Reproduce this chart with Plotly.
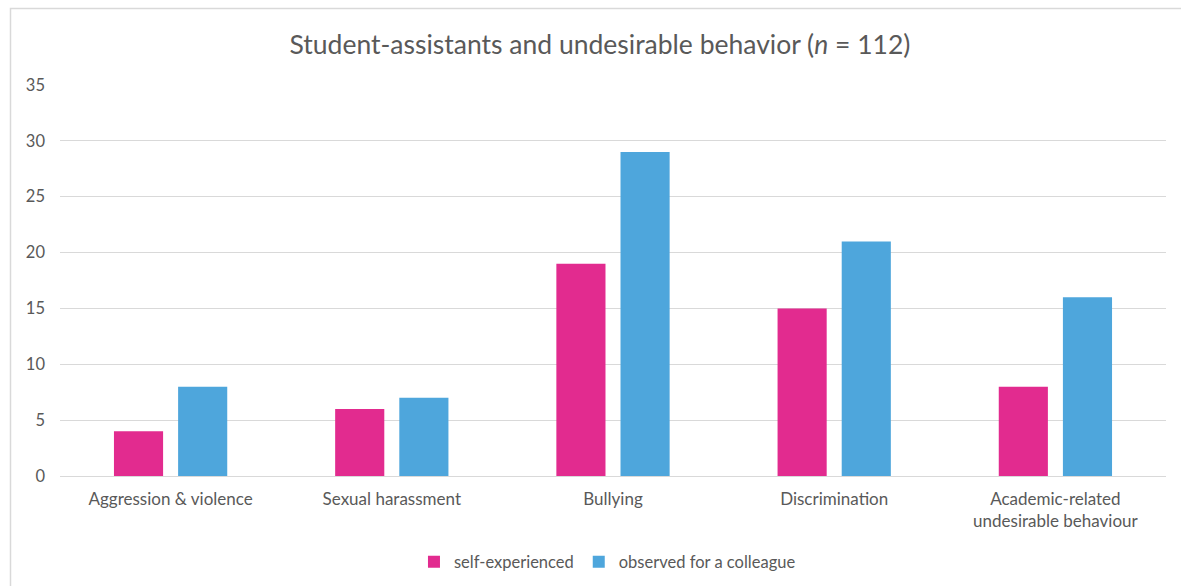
import plotly.graph_objects as go

categories = ["Aggression & violence", "Sexual harassment", "Bullying", "Discrimination",
              "Academic-related<br>undesirable behaviour"]
self_experienced = [4, 6, 19, 15, 8]
observed_colleague = [8, 7, 29, 21, 16]
series_names = ["self-experienced", "observed for a colleague"]
y_ticks = [0, 5, 10, 15, 20, 25, 30, 35]

PINK = "#E22B8F"
BLUE = "#4EA6DC"
GRAY = "#595959"
FONT = "Lato, Carlito, 'Liberation Sans', sans-serif"

fig = go.Figure()
fig.add_trace(go.Bar(x=categories, y=self_experienced, name=series_names[0],
                     marker=dict(color=PINK, line=dict(width=0))))
fig.add_trace(go.Bar(x=categories, y=observed_colleague, name=series_names[1],
                     marker=dict(color=BLUE, line=dict(width=0))))

fig.update_layout(
    width=1181, height=586,
    margin=dict(l=60, r=15, t=85, b=110, autoexpand=False),
    paper_bgcolor="white", plot_bgcolor="white",
    font=dict(family=FONT, color=GRAY, size=16),
    barmode="group", bargap=0.42, bargroupgap=0.234,
    title=dict(text="Student-assistants and undesirable behavior (<i>n</i> = 112)",
               x=0.508, xanchor="center", y=1 - 45 / 586, yanchor="middle",
               font=dict(size=26.5, color=GRAY, family=FONT)),
    showlegend=True,
    legend=dict(orientation="h", x=0.495, xanchor="center", y=-0.22, yanchor="middle",
                font=dict(size=16.5, color=GRAY), itemwidth=30, traceorder="normal"),
    xaxis=dict(showgrid=False, showline=False, ticks="", tickfont=dict(size=17, color=GRAY),
               ticklabelstandoff=11, automargin=False),
    yaxis=dict(range=[0, 35], tickvals=y_ticks, showgrid=True, gridcolor="#D9D9D9",
               gridwidth=1, zeroline=True, zerolinecolor="#D9D9D9", zerolinewidth=1,
               showline=False, ticks="", tickfont=dict(size=16.5, color=GRAY),
               ticklabelstandoff=14, automargin=False),
    shapes=[dict(type="rect", xref="paper", yref="paper",
                 x0=(10.5 - 60) / 1106, x1=(1190 - 60) / 1106,
                 y0=(476 - 600) / 391, y1=(476 - 8.5) / 391,
                 line=dict(color="#D9D9D9", width=1.5), fillcolor="rgba(0,0,0,0)",
                 layer="below")],
)

fig.write_html("out.html")
